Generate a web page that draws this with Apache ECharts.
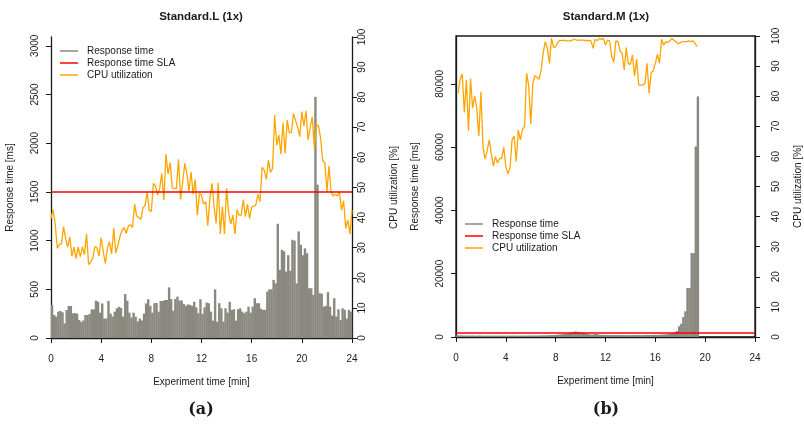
<!DOCTYPE html>
<html>
<head>
<meta charset="utf-8">
<script src="https://cdn.jsdelivr.net/npm/echarts@6/dist/echarts.min.js"></script>
<style>
  html, body { margin: 0; padding: 0; background: #fff; }
  #chart { width: 804px; height: 424px; }
</style>
</head>
<body>
<div id="chart"></div>
<script>
// one bucket = 10 s, x axis is in minutes
const bucketMin = 1 / 6
const slaMs = 1500
const timeTicks = [0, 4, 8, 12, 16, 20, 24]
const cpuTicks = [0, 10, 20, 30, 40, 50, 60, 70, 80, 90, 100]
const largeMsTicks = [0, 500, 1000, 1500, 2000, 2500, 3000]
const mediumMsTicks = [0, 20000, 40000, 60000, 80000]

// Standard.L (1x)
const largeResponse = [
  339, 236, 219, 270, 277, 265, 150, 287, 328, 328, 253, 256, 250, 185, 165, 180, 236, 236, 246, 294, 294, 383, 373, 260,
  355, 200, 200, 380, 250, 220, 270, 305, 320, 310, 220, 451, 383, 260, 210, 260, 220, 170, 200, 180, 250, 355, 398, 330,
  260, 357, 360, 270, 380, 380, 390, 390, 520, 400, 280, 400, 425, 385, 385, 350, 330, 345, 340, 330, 372, 315, 254, 398,
  247, 315, 363, 357, 271, 178, 500, 168, 357, 305, 168, 305, 260, 372, 288, 295, 178, 295, 305, 271, 254, 271, 322, 260,
  322, 408, 357, 357, 300, 288, 290, 477, 500, 500, 597, 560, 1173, 700, 905, 890, 682, 850, 690, 1008, 1000, 560, 1094, 957,
  850, 920, 870, 511, 511, 442, 2476, 1574, 460, 455, 322, 330, 470, 322, 230, 408, 220, 295, 185, 305, 290, 200, 290, 271,
]
const largeCpu = [
  39.7, 42.7, 38, 29.8, 31, 31.3, 37, 33, 30.2, 33.6, 27.2, 30.2, 26.4, 30.3, 27, 30.3, 27.7, 34.5, 24.4, 25.2, 26.6, 30.4, 29.9, 27.2,
  33.4, 28.6, 24.8, 29.9, 32, 27.9, 36.5, 28.2, 30.7, 33.8, 35.8, 36.7, 34.7, 37.2, 37.7, 36.7, 44.5, 40.5, 40, 39.4, 43.3, 44, 48.5, 42.4,
  42.1, 51.4, 50.5, 47.5, 49.7, 54.7, 45.8, 61.1, 54.5, 58.3, 50, 49.7, 49.7, 59.4, 46, 51.9, 58, 54.7, 48.9, 55.2, 47.8, 52.7, 40.8, 48,
  47.5, 44.5, 45.3, 37.3, 46.4, 51.4, 43.7, 38.1, 51.6, 34.6, 43.7, 34.6, 49.7, 41.4, 37.8, 40.8, 34.6, 42.6, 40.8, 40.8, 46, 40.3, 44.5, 39.7,
  43.6, 43.8, 44.2, 47.8, 45.3, 56.7, 55.8, 52.7, 59.1, 55, 56.4, 74.1, 64.1, 67.4, 61.1, 71.5, 61.3, 72.4, 68.2, 68.2, 74.6, 72.2, 70, 66.9,
  75.2, 70.4, 75.5, 65.8, 70, 73.5, 63, 70.8, 70.4, 66.3, 58.9, 58.2, 48.6, 57.1, 48.6, 47.2, 47.8, 47.2, 48.6, 42.5, 45.6, 36.4, 39.2, 34.5,
  42.5,
]

// Standard.M (1x)
const mediumResponse = [
  500, 480, 520, 450, 470, 430, 460, 480, 440, 420, 450, 470, 430, 410, 440, 420, 450, 430, 410, 400, 420, 440, 430, 410,
  420, 450, 430, 440, 460, 420, 430, 450, 470, 440, 460, 480, 500, 470, 450, 480, 520, 500, 540, 520, 560, 600, 620, 640,
  700, 760, 820, 900, 1000, 1100, 1200, 1400, 1600, 1750, 1650, 1500, 1400, 1300, 1100, 900, 800, 750, 850, 950, 800, 700, 650, 700,
  650, 620, 600, 640, 600, 580, 620, 600, 580, 560, 600, 620, 580, 600, 620, 640, 600, 580, 620, 650, 640, 620, 660, 680,
  650, 700, 720, 760, 800, 850, 950, 1000, 1300, 1500, 1900, 3400, 4200, 6300, 8100, 15500, 15500, 26500, 26500, 60200, 76000,
]
const mediumCpu = [
  81, 85.6, 87.4, 74.6, 85.4, 68.5, 85.9, 76, 80.1, 76, 66.8, 81.5, 63.2, 59.1, 61.9, 65.5, 61, 56.8, 59.9, 57.9, 59.3, 59.3, 63, 56.6,
  54.2, 56, 65.5, 66.8, 58.3, 68.8, 65.5, 69, 69.9, 87.6, 83.7, 70.8, 84.3, 86.8, 86.3, 85.6, 88.7, 94.5, 98.1, 95.9, 90.9, 99.2, 96.2, 96.4,
  97.8, 98.6, 98.4, 98.6, 98.4, 98.4, 98.4, 98.6, 99, 98.6, 98.6, 98.6, 98.6, 98.5, 98.5, 98.5, 98.4, 95.9, 98.9, 98.4, 99.2, 98.9, 99.2, 97,
  98.6, 98.4, 93.1, 91.4, 98.4, 98.1, 95.1, 94.2, 88.7, 96.2, 90.7, 90.7, 93.7, 86.7, 92.3, 83.7, 83.7, 83.7, 84.3, 90.9, 81, 87.8, 88.5, 90.9,
  94, 90.9, 98.9, 97, 98.1, 97.8, 98.4, 99.2, 98.6, 98.1, 97.4, 97.8, 98.1, 98.1, 98.1, 98.4, 98.1, 98.4, 97.8, 96.5,
]

const font = 'Liberation Sans'
const ink = '#1a1a1a'
const barColor = '#8a8980'
const slaColor = '#ff0000'
const cpuColor = '#ffa500'
const plain = v => String(v) // no thousands separators, like R

const chart = echarts.init(document.getElementById('chart'))

// x axis, same for both panels
const timeAxis = gridIndex => ({
  type: 'value',
  gridIndex,
  min: 0,
  max: 24,
  interval: 4,
  name: 'Experiment time [min]',
  nameLocation: 'middle',
  nameGap: 39,
  nameTextStyle: { fontFamily: font, fontSize: 10, color: ink },
  axisLine: { show: true, onZero: false, lineStyle: { color: ink, width: 1.3 } },
  axisTick: { show: true, length: 5, customValues: timeTicks, lineStyle: { color: ink } },
  axisLabel: { fontFamily: font, fontSize: 10, color: ink, margin: 16, customValues: timeTicks, formatter: plain },
  splitLine: { show: false },
})

const msAxis = (gridIndex, max, ticks) => ({
  type: 'value',
  gridIndex,
  position: 'left',
  min: 0,
  max,
  name: 'Response time [ms]',
  nameLocation: 'middle',
  nameRotate: 90,
  nameGap: 36,
  nameTextStyle: { fontFamily: font, fontSize: 10, color: ink },
  axisLine: { show: true, lineStyle: { color: ink, width: 1.3 } },
  axisTick: { show: true, length: 5, customValues: ticks, lineStyle: { color: ink } },
  axisLabel: { fontFamily: font, fontSize: 10, color: ink, rotate: 90, margin: 11, customValues: ticks, formatter: plain },
  splitLine: { show: false },
})

const cpuAxis = (gridIndex, labelMargin, nameGap) => ({
  type: 'value',
  gridIndex,
  position: 'right',
  min: 0,
  max: 100,
  name: 'CPU utilization [%]',
  nameLocation: 'middle',
  nameRotate: 90,
  nameGap,
  nameTextStyle: { fontFamily: font, fontSize: 10, color: ink },
  axisLine: { show: true, lineStyle: { color: ink, width: 1.3 } },
  axisTick: { show: true, length: 5, customValues: cpuTicks, lineStyle: { color: ink } },
  axisLabel: { fontFamily: font, fontSize: 10, color: ink, rotate: 90, margin: labelMargin, customValues: cpuTicks, formatter: plain },
  splitLine: { show: false },
})

const legendBox = (left, top, names) => ({
  orient: 'vertical',
  left,
  top,
  padding: 0,
  itemWidth: 18,
  itemHeight: 1.5,
  itemGap: 0,
  icon: 'rect',
  selectedMode: false,
  textStyle: { fontFamily: font, fontSize: 10, color: ink, lineHeight: 12, padding: [0, 0, 0, 4] },
  data: names,
})

const panelSeries = (idx, response, cpu, cpuOffset) => [
  {
    name: 'Response time',
    type: 'bar',
    xAxisIndex: idx,
    yAxisIndex: idx * 2,
    data: response.map((v, i) => [(i + 0.5) * bucketMin, v]),
    barWidth: 2.4,
    itemStyle: { color: barColor },
    silent: true,
    z: 1,
  },
  {
    name: 'Response time SLA',
    type: 'line',
    xAxisIndex: idx,
    yAxisIndex: idx * 2,
    data: [],
    color: slaColor,
    lineStyle: { color: slaColor },
    markLine: {
      silent: true,
      symbol: 'none',
      label: { show: false },
      lineStyle: { color: slaColor, width: 1.5, type: 'solid' },
      data: [{ yAxis: slaMs }],
    },
    z: 3,
  },
  {
    name: 'CPU utilization',
    type: 'line',
    xAxisIndex: idx,
    yAxisIndex: idx * 2 + 1,
    data: cpu.map((v, i) => [(i + cpuOffset) * bucketMin, v]),
    showSymbol: false,
    color: cpuColor,
    lineStyle: { color: cpuColor, width: 1.3 },
    silent: true,
    z: 2,
  },
]

const legendNames = ['Response time', 'Response time SLA', 'CPU utilization']
const titleStyle = { fontFamily: font, fontSize: 11.5, fontWeight: 'bold', color: ink }
const captionStyle = { fontFamily: 'DejaVu Serif', fontSize: 16, fontWeight: 'bold', color: ink }

chart.setOption({
  animation: false,
  backgroundColor: '#fff',
  title: [
    { text: 'Standard.L (1x)', left: 196, top: 6, textAlign: 'center', textStyle: titleStyle },
    { text: 'Standard.M (1x)', left: 601, top: 6, textAlign: 'center', textStyle: titleStyle },
    { text: '(a)', left: 196, top: 397, textAlign: 'center', textStyle: captionStyle },
    { text: '(b)', left: 601, top: 397, textAlign: 'center', textStyle: captionStyle },
  ],
  grid: [
    { left: 51, top: 37, width: 301, height: 301 },
    { left: 456, top: 36, width: 301, height: 301, show: true, borderColor: ink, borderWidth: 1.3 },
  ],
  legend: [legendBox(60, 45, legendNames), legendBox(465, 218, legendNames)],
  xAxis: [timeAxis(0), timeAxis(1)],
  yAxis: [
    msAxis(0, 3090, largeMsTicks),
    cpuAxis(0, 5, 37),
    msAxis(1, 95100, mediumMsTicks),
    cpuAxis(1, 16, 38),
  ],
  series: [
    ...panelSeries(0, largeResponse, largeCpu, 0),
    ...panelSeries(1, mediumResponse, mediumCpu, 1),
  ],
})
</script>
</body>
</html>
